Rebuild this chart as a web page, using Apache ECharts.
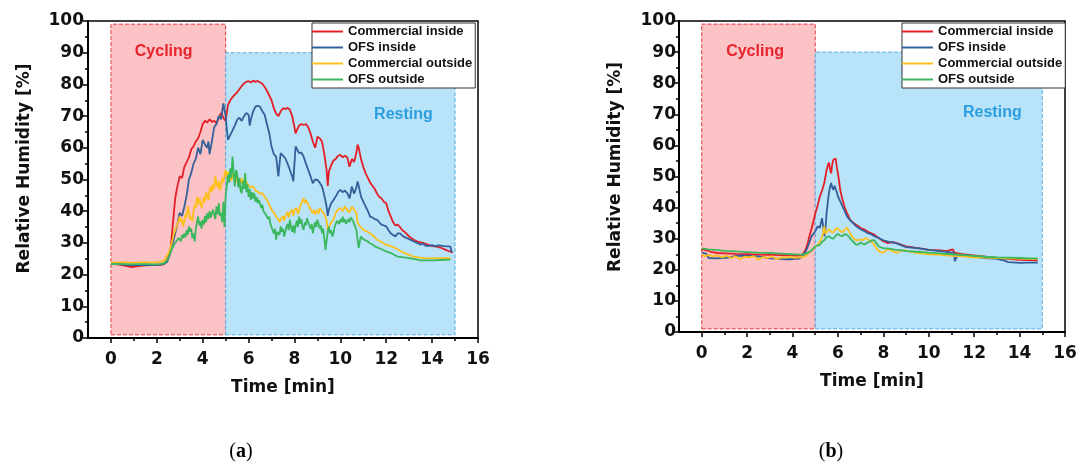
<!DOCTYPE html>
<html>
<head>
<meta charset="utf-8">
<script src="https://cdn.jsdelivr.net/npm/echarts@6/dist/echarts.min.js"></script>
<style>
html,body{margin:0;padding:0;background:#fff;}
#c{width:1080px;height:464px;}
</style>
</head>
<body>
<div id="c"></div>
<script>
// ---------- DATA ----------
const seriesNames = ['Commercial inside', 'OFS inside', 'Commercial outside', 'OFS outside'];
const xTickLabels = [0, 2, 4, 6, 8, 10, 12, 14, 16];
const xMinorTicks = [1, 3, 5, 7, 9, 11, 13, 15];
const phaseNames = ['Cycling', 'Resting'];
const cyclingRange = [0, 5];
const restingRange = [5, 15];
const cyclingTop = 99, restingTop = 90, phaseBottom = 1;
const panelLabels = ['a', 'b'];

// Panel (a): [time min, RH %]
const aRed = [[0,23.4],[0.3,23.2],[0.6,22.8],[0.9,22.4],[1.2,22.7],[1.5,22.9],[1.8,23.0],[2.1,23.0],[2.3,23.2],[2.45,24.5],[2.6,28],[2.7,36],[2.8,44],[2.9,48],[3.0,51],[3.1,50.5],[3.2,54],[3.3,55.5],[3.4,57],[3.5,59.5],[3.6,60.5],[3.7,62],[3.8,63],[3.9,65],[4.0,67.5],[4.1,68.5],[4.2,68],[4.3,69],[4.4,68.2],[4.5,68.5],[4.6,67.8],[4.7,69.5],[4.8,71],[4.9,69.5],[5.0,68.5],[5.05,71],[5.1,73.5],[5.2,75],[5.3,76],[5.4,76.8],[5.5,77.5],[5.6,78.5],[5.7,79.5],[5.8,80.3],[5.9,80.8],[6.0,81],[6.1,80.6],[6.2,81.2],[6.3,80.8],[6.4,81.1],[6.5,80.6],[6.6,80.2],[6.7,79.2],[6.8,78],[6.9,76.5],[7.0,75],[7.1,72.5],[7.2,70.8],[7.3,70],[7.4,71.5],[7.5,72.5],[7.6,72.2],[7.7,72.6],[7.8,72],[7.9,70],[8.0,66.5],[8.05,64.5],[8.1,65.5],[8.2,67],[8.3,67.5],[8.4,67.2],[8.5,67.5],[8.6,66.5],[8.7,64.5],[8.8,62],[8.9,60],[8.95,61.5],[9.0,63.5],[9.1,63],[9.2,62],[9.3,58],[9.4,53],[9.45,48],[9.5,52.5],[9.6,54.5],[9.7,56],[9.8,56.5],[9.9,57.5],[10.0,57.8],[10.1,57],[10.2,57.5],[10.3,57],[10.4,54],[10.5,56.5],[10.6,55.5],[10.7,58.5],[10.75,61],[10.8,60],[10.9,56.5],[11.0,54],[11.1,52],[11.2,50.5],[11.3,49],[11.4,48],[11.5,47],[11.6,45.5],[11.7,44.5],[11.8,44],[11.9,43],[12.0,42.5],[12.1,40],[12.2,38.3],[12.3,36.5],[12.4,35.5],[12.5,35.8],[12.6,35],[12.7,34],[12.8,33.5],[12.9,32.8],[13.0,32],[13.2,31],[13.4,30.3],[13.6,30],[13.8,29.5],[14.0,29],[14.2,28.8],[14.4,28.4],[14.6,27.8],[14.8,27.2],[14.9,27]];
const aBlue = [[0,23.5],[0.3,23.3],[0.6,23.1],[0.9,23],[1.2,23],[1.5,23.1],[1.8,23],[2.1,23.1],[2.3,23.4],[2.45,24],[2.6,27],[2.7,30],[2.8,33],[2.9,36],[3.0,39.5],[3.1,38.5],[3.2,41.5],[3.3,45],[3.4,50],[3.5,52],[3.6,55],[3.7,56.5],[3.8,60],[3.9,58],[4.0,62.5],[4.1,61],[4.2,60],[4.25,62],[4.3,58],[4.4,62],[4.5,66.5],[4.6,67.5],[4.7,70],[4.8,69],[4.9,74],[5.0,70],[5.05,66],[5.1,62.5],[5.2,64],[5.3,65.5],[5.4,67],[5.5,68.8],[5.6,69.5],[5.7,68.5],[5.8,70],[5.9,71],[6.0,70.4],[6.05,67],[6.1,69],[6.2,71.5],[6.3,73],[6.4,73.2],[6.5,73],[6.6,71.5],[6.7,70.4],[6.8,67.5],[6.9,64.6],[7.0,60.4],[7.1,58],[7.2,57.2],[7.3,51],[7.35,55],[7.4,58.3],[7.5,57.5],[7.6,56.7],[7.7,55],[7.8,53],[7.9,51],[7.95,49.4],[8.0,55],[8.05,60.4],[8.1,60.5],[8.2,58.3],[8.3,58.5],[8.4,57.2],[8.5,55],[8.6,53],[8.7,51],[8.8,48.8],[8.9,50],[9.0,49.9],[9.1,49],[9.2,47.8],[9.3,45],[9.4,41.5],[9.45,38.5],[9.5,40.5],[9.6,42.5],[9.7,43.5],[9.8,44.6],[9.9,46],[10.0,46.7],[10.1,46],[10.2,46.5],[10.3,45.7],[10.4,44],[10.5,47.8],[10.6,45.5],[10.7,47.5],[10.75,49.4],[10.8,48],[10.9,44.6],[11.0,43],[11.1,41.5],[11.2,40],[11.3,38.3],[11.4,38],[11.5,37.5],[11.6,37.3],[11.7,36.5],[11.8,35.7],[11.9,35.5],[12.0,35.2],[12.1,34],[12.2,33],[12.3,32.5],[12.4,32],[12.5,33],[12.6,33],[12.7,32.3],[12.8,31.8],[12.9,31.5],[13.0,31.2],[13.2,30.5],[13.4,29.8],[13.5,29.4],[13.6,29.8],[13.7,29.2],[13.8,29],[14.0,29.3],[14.1,29],[14.3,29.2],[14.5,29],[14.7,28.9],[14.8,28.8],[14.85,27]];
const aYellow = [[0,23.9],[0.3,23.8],[0.6,23.9],[0.9,23.7],[1.2,23.8],[1.5,23.9],[1.8,23.8],[2.1,24],[2.3,24.3],[2.45,26],[2.55,27.5],[2.65,30],[2.75,33],[2.85,35],[2.95,37],[3.0,38.3],[3.05,36.5],[3.1,37.5],[3.15,35.2],[3.2,37],[3.25,39],[3.3,38],[3.35,41.5],[3.4,39.5],[3.45,37.5],[3.5,38.3],[3.55,36.8],[3.6,40],[3.65,42],[3.7,41],[3.75,44.6],[3.8,42],[3.85,44],[3.9,43],[3.95,41],[4.0,42.5],[4.05,44.5],[4.1,43],[4.15,46],[4.2,45.7],[4.25,43.5],[4.3,46.5],[4.35,47.8],[4.4,46],[4.45,48.5],[4.5,47],[4.55,51],[4.6,49],[4.65,47.5],[4.7,49.5],[4.75,46.5],[4.8,48],[4.85,50.5],[4.9,49],[4.95,51.5],[5.0,53],[5.05,50.5],[5.1,52.5],[5.15,50],[5.2,51],[5.25,49.5],[5.3,52],[5.35,50.5],[5.4,52],[5.45,49],[5.5,51],[5.55,48.5],[5.6,50],[5.65,48.5],[5.7,50.5],[5.75,49],[5.8,49.9],[5.85,48],[5.9,49.5],[5.95,48.5],[6.0,48.8],[6.1,47.5],[6.2,47.8],[6.3,46.5],[6.4,46.2],[6.5,45.5],[6.6,45.7],[6.7,44.5],[6.8,43.6],[6.9,42],[7.0,40.4],[7.1,39.5],[7.2,38.3],[7.3,37.5],[7.35,36.5],[7.4,37.3],[7.5,38.5],[7.55,37],[7.6,38.3],[7.7,39.8],[7.75,38],[7.8,39.4],[7.9,40.5],[7.95,38.5],[8.0,40.4],[8.1,41],[8.15,39],[8.2,40.4],[8.3,42.5],[8.4,44.1],[8.45,42.5],[8.5,43.5],[8.6,42],[8.7,40.5],[8.8,39.4],[8.85,40.5],[8.9,39],[9.0,40.4],[9.05,39.2],[9.1,41],[9.2,40],[9.3,39],[9.4,37.3],[9.45,34],[9.5,35],[9.6,36.5],[9.7,37.3],[9.8,39.5],[9.9,40.5],[10.0,41],[10.1,40],[10.2,41.5],[10.3,40.4],[10.4,39.5],[10.5,41.5],[10.6,40.5],[10.7,39.4],[10.75,36.5],[10.8,35.7],[10.9,35],[11.0,34.1],[11.1,33.8],[11.2,33.5],[11.3,33],[11.4,32.4],[11.5,31.8],[11.6,31],[11.7,30.7],[11.8,30.2],[12.0,29.4],[12.2,29],[12.4,28.4],[12.6,27.5],[12.8,26.8],[13.0,26.2],[13.2,25.7],[13.4,25.4],[13.6,25.2],[14.0,25.1],[14.4,25.2],[14.8,25.2]];
const aGreen = [[0,23.2],[0.3,23.4],[0.6,23.3],[0.9,23.2],[1.2,23.3],[1.5,23.3],[1.8,23.2],[2.1,23.3],[2.3,23.5],[2.45,24.5],[2.55,26],[2.65,28],[2.75,29.5],[2.85,30.5],[2.95,31.5],[3.0,32],[3.05,30.5],[3.1,32.5],[3.15,31.5],[3.2,33],[3.25,31.8],[3.3,34],[3.35,32.5],[3.4,35.2],[3.45,33.5],[3.5,34.5],[3.55,31.5],[3.6,33],[3.65,30.5],[3.7,34.5],[3.75,36.5],[3.8,38.3],[3.85,35.5],[3.9,36.8],[3.95,34.5],[4.0,37.3],[4.05,35.8],[4.1,38.5],[4.15,36.5],[4.2,39.4],[4.25,37.5],[4.3,40],[4.35,38],[4.4,38.3],[4.45,40.5],[4.5,39],[4.55,37.5],[4.6,41.5],[4.65,39],[4.7,42.5],[4.75,38.5],[4.8,39.4],[4.85,36.5],[4.9,43],[4.95,35],[5.0,45],[5.05,47.8],[5.1,51.5],[5.15,49],[5.2,53.5],[5.25,50.5],[5.3,57.2],[5.35,52],[5.4,47.8],[5.45,53],[5.5,52],[5.55,47.5],[5.6,50.5],[5.65,46.5],[5.7,45.7],[5.75,49.5],[5.8,47],[5.85,52],[5.9,46],[5.95,48.5],[6.0,44.5],[6.05,47],[6.1,43.6],[6.15,46],[6.2,44],[6.25,45.7],[6.3,43],[6.35,44.5],[6.4,42.5],[6.45,43.5],[6.5,42.5],[6.55,41],[6.6,42],[6.65,40],[6.7,40.4],[6.75,39],[6.8,39.5],[6.85,37.5],[6.9,38.3],[6.95,36],[7.0,35.5],[7.05,34],[7.1,33],[7.15,34.5],[7.2,31],[7.25,33.5],[7.3,34],[7.35,32.5],[7.4,35.2],[7.45,33.5],[7.5,34.5],[7.55,32],[7.6,32],[7.65,35],[7.7,36],[7.75,34],[7.8,37.3],[7.85,35],[7.9,33.5],[7.95,35.5],[8.0,33],[8.05,35.5],[8.1,37],[8.15,35],[8.2,38.3],[8.25,36],[8.3,37.5],[8.35,35],[8.4,34.1],[8.45,36.5],[8.5,35.5],[8.55,37.8],[8.6,37.3],[8.65,35.5],[8.7,34.5],[8.75,36],[8.8,33],[8.85,35],[8.9,36.5],[8.95,35],[9.0,37.3],[9.05,36],[9.1,34.5],[9.15,35.5],[9.2,33],[9.25,34.5],[9.3,31.5],[9.35,27.8],[9.4,30.5],[9.45,33.5],[9.5,35.2],[9.55,33],[9.6,34],[9.65,32],[9.7,33],[9.75,35],[9.8,35.5],[9.85,37],[9.9,37.3],[9.95,36],[10.0,37.5],[10.05,36.5],[10.1,38.3],[10.15,36.5],[10.2,37.5],[10.25,36],[10.3,36.8],[10.35,37.5],[10.4,36.5],[10.45,38],[10.5,38.3],[10.55,37],[10.6,36],[10.65,35],[10.7,34],[10.75,31],[10.8,28.4],[10.85,30.5],[10.9,32],[11.0,31.2],[11.1,30.8],[11.2,30.5],[11.3,29.8],[11.4,29.5],[11.5,28.9],[11.6,28.6],[11.7,28.3],[11.8,28],[12.0,27.3],[12.2,26.8],[12.4,26],[12.5,25.7],[12.7,25.5],[13.0,25.2],[13.3,24.8],[13.5,24.5],[14.0,24.5],[14.4,24.6],[14.8,24.7]];

// Panel (b)
const bRed = [[0,26.6],[0.2,26.3],[0.4,25.8],[0.7,25.4],[1.0,25.3],[1.5,25.1],[2.0,25],[2.5,24.9],[3.0,24.8],[3.5,24.7],[4.0,24.6],[4.3,24.6],[4.45,25],[4.55,26],[4.65,28],[4.75,31],[4.85,33.5],[5.0,38],[5.1,40.5],[5.2,43.5],[5.3,45.5],[5.4,48],[5.5,52],[5.55,53.5],[5.6,54.5],[5.65,52.5],[5.7,51],[5.75,54],[5.8,55.4],[5.85,55],[5.9,55.8],[5.95,53],[6.0,51],[6.05,48.5],[6.1,45.7],[6.2,42.5],[6.3,40],[6.4,38.2],[6.5,36.7],[6.6,35.5],[6.7,35],[6.8,34.5],[6.9,34],[7.0,33.4],[7.15,33],[7.3,32.3],[7.45,31.8],[7.6,31.3],[7.75,30.5],[7.9,29.7],[8.0,29.2],[8.2,28.6],[8.4,28.9],[8.6,28.6],[8.8,28],[9.0,27.5],[9.25,27.3],[9.5,27],[9.75,26.7],[10,26.4],[10.5,26.2],[10.8,26],[11.05,26.6],[11.15,25.4],[11.5,25],[12,24.6],[12.5,24.2],[13,23.8],[13.5,23.5],[14,23.2],[14.4,23.1],[14.8,23]];
const bBlue = [[0,25.5],[0.2,25.2],[0.3,23.8],[0.6,23.7],[0.9,23.8],[1.2,23.9],[1.5,24.5],[1.8,24.6],[2.1,24.5],[2.5,24.3],[3.0,23.7],[3.3,23.6],[3.6,23.4],[4.0,23.4],[4.3,23.6],[4.45,24.3],[4.55,25.5],[4.65,27],[4.75,29],[4.85,31],[4.95,31.8],[5.05,33],[5.1,34],[5.2,33.5],[5.3,36.6],[5.35,34],[5.4,30.7],[5.45,33],[5.5,38.2],[5.55,41.5],[5.6,44.6],[5.65,46.5],[5.7,47.9],[5.75,46.5],[5.8,45.7],[5.85,47],[5.9,46.8],[5.95,45],[6.0,43.6],[6.1,42],[6.2,40.4],[6.3,38.8],[6.4,37.2],[6.5,36.2],[6.6,35.5],[6.7,34.8],[6.8,34],[6.9,33.5],[7.0,33],[7.15,32.5],[7.3,31.8],[7.45,31.5],[7.6,30.8],[7.8,30.2],[8.0,29.5],[8.25,29],[8.5,28.7],[8.75,28],[9.0,27.3],[9.5,27],[10,26.4],[10.5,26],[11,25.5],[11.1,25.6],[11.15,22.8],[11.25,24.5],[11.5,24.8],[12,24.2],[12.5,23.8],[13,23.5],[13.3,23],[13.5,22.5],[14,22.2],[14.4,22.3],[14.8,22.3]];
const bYellow = [[0,25],[0.15,24.3],[0.3,24.8],[0.5,24.3],[0.7,24.6],[0.9,24],[1.1,24.5],[1.3,23.8],[1.5,24.3],[1.7,23.5],[1.9,24.2],[2.1,24],[2.3,24.4],[2.5,23.2],[2.7,24.1],[2.9,23.8],[3.1,24.3],[3.3,23.4],[3.5,24],[3.7,23.9],[3.9,24.2],[4.1,23.8],[4.3,24],[4.5,24.2],[4.6,24.5],[4.7,25.3],[4.8,26],[4.9,26.5],[5.0,27.5],[5.1,28],[5.2,29],[5.3,30.5],[5.35,32],[5.4,34],[5.45,31.5],[5.5,31],[5.6,33],[5.7,32.2],[5.8,32],[5.9,33.2],[6.0,33.2],[6.1,32.5],[6.2,32],[6.3,33],[6.4,33.5],[6.5,32.2],[6.6,31],[6.7,30],[6.8,29.5],[6.9,29.5],[7.0,29.8],[7.1,29.5],[7.2,30.2],[7.3,29.8],[7.4,29.5],[7.5,28.8],[7.6,28],[7.7,26.8],[7.8,26],[7.9,25.6],[8.0,25.5],[8.1,26.2],[8.2,26.5],[8.3,26.5],[8.4,26],[8.5,25.7],[8.6,25.5],[8.8,26.2],[9.0,26.2],[9.2,25.8],[9.5,25.4],[9.8,25.2],[10,25],[10.5,24.8],[11,24.5],[11.5,24.3],[12,24],[12.5,23.9],[13,23.8],[13.5,23.7],[14,23.6],[14.4,23.5],[14.8,23.5]];
const bGreen = [[0,26.9],[0.3,26.6],[0.6,26.4],[1.0,26.1],[1.5,25.9],[2.0,25.7],[2.5,25.5],[3.0,25.4],[3.5,25.2],[4.0,25],[4.4,24.9],[4.6,25.2],[4.8,26],[5.0,27.5],[5.1,27.8],[5.2,28],[5.3,29],[5.4,29.5],[5.5,30.5],[5.6,30.8],[5.7,30.2],[5.8,30],[5.9,31],[6.0,31.5],[6.1,31],[6.2,30.8],[6.3,31.5],[6.4,31.2],[6.5,30.5],[6.6,29.5],[6.7,28.8],[6.8,28],[6.9,28.2],[7.0,28.8],[7.1,28.3],[7.2,28.2],[7.3,28.8],[7.4,29],[7.5,29.5],[7.6,29.5],[7.7,28.5],[7.8,27.5],[7.9,27.2],[8.0,27],[8.25,26.8],[8.5,26.5],[8.75,26.3],[9,26],[9.5,25.8],[10,25.5],[10.5,25.3],[11,25],[11.5,24.8],[12,24.5],[12.5,24.2],[13,24],[13.5,23.9],[14,23.8],[14.4,23.7],[14.8,23.7]];

// phase label anchor positions (data coords) per panel
const phaseLabelPos = [
  [[2.3, 90.5], [12.75, 70.6]],
  [[2.35, 90.3], [12.8, 70.5]]
];

// ---------- STYLE ----------
const colors = ['#e41e26', '#33609a', '#fdc01d', '#3bb75e'];
const FONT = '"Liberation Sans", Arial, sans-serif';
const AXFONT = '"DejaVu Sans", sans-serif';
const grids = [
  { left: 88, top: 21, width: 390, height: 317 },
  { left: 679, top: 21, width: 386, height: 311 }
];
const yLabelMargin = [4, 3];
const yNamePad = [22, 19];
const legendPos = [{ left: 312, top: 23 }, { left: 902, top: 23 }];
const panelLabelPos = [[241, 452], [831, 452]];
const panelData = [[aRed, aBlue, aYellow, aGreen], [bRed, bBlue, bYellow, bGreen]];

const option = {
  animation: false,
  backgroundColor: '#fff',
  textStyle: { fontFamily: FONT },
  grid: grids.map(g => Object.assign({ show: true, borderColor: '#000', borderWidth: 1.5, backgroundColor: 'transparent' }, g)),
  xAxis: [],
  yAxis: [],
  legend: [],
  series: [],
  graphic: []
};

grids.forEach((g, i) => {
  option.xAxis.push({
    gridIndex: i, type: 'value', min: -1, max: 16,
    name: 'Time [min]', nameLocation: 'middle', nameGap: 41,
    nameTextStyle: { fontSize: 17, fontWeight: 'bold', color: '#111', fontFamily: AXFONT },
    axisLine: { show: true, onZero: false, lineStyle: { color: '#000', width: 2 } },
    axisTick: { show: true, customValues: xTickLabels, length: 5, lineStyle: { color: '#000', width: 1.5 } },
    axisLabel: { show: true, customValues: xTickLabels, fontSize: 17, fontWeight: 'bold', color: '#111', margin: 13, fontFamily: AXFONT },
    splitLine: { show: false }
  });
  option.xAxis.push({
    gridIndex: i, type: 'value', min: -1, max: 16, position: 'bottom',
    axisLine: { show: false, onZero: false },
    axisTick: { show: true, customValues: xMinorTicks, length: 3, lineStyle: { color: '#000', width: 1.5 } },
    axisLabel: { show: false },
    splitLine: { show: false }
  });
  option.yAxis.push({
    gridIndex: i, type: 'value', min: 0, max: 100, interval: 10,
    name: 'Relative Humidity [%]', nameLocation: 'middle', nameGap: 55,
    nameTextStyle: { fontSize: 17, fontWeight: 'bold', color: '#111', fontFamily: AXFONT, padding: [0, 0, 0, yNamePad[i]] },
    axisLine: { show: true, onZero: false, lineStyle: { color: '#000', width: 2 } },
    axisTick: { show: true, length: 5, lineStyle: { color: '#000', width: 1.5 } },
    minorTick: { show: true, splitNumber: 2, length: 3, lineStyle: { color: '#000', width: 1.5 } },
    axisLabel: { fontSize: 17, fontWeight: 'bold', color: '#111', margin: yLabelMargin[i], fontFamily: AXFONT },
    splitLine: { show: false }
  });

  // shaded phase regions + labels
  option.series.push({
    type: 'line', xAxisIndex: i * 2, yAxisIndex: i, data: [], z: 1, silent: true,
    markArea: {
      silent: true,
      label: { show: false },
      data: [
        [{ xAxis: cyclingRange[0], yAxis: phaseBottom,
           itemStyle: { color: '#fbc3c6', borderColor: '#e2363e', borderType: 'dashed', borderWidth: 1 } },
         { xAxis: cyclingRange[1], yAxis: cyclingTop }],
        [{ xAxis: restingRange[0], yAxis: phaseBottom,
           itemStyle: { color: '#b9e3f9', borderColor: '#5aaee0', borderType: 'dashed', borderWidth: 1 } },
         { xAxis: restingRange[1], yAxis: restingTop }]
      ]
    },
    markPoint: {
      silent: true, symbol: 'circle', symbolSize: 1,
      itemStyle: { color: 'rgba(0,0,0,0)' },
      data: [
        { coord: phaseLabelPos[i][0], label: { show: true, position: 'inside', formatter: phaseNames[0], color: '#e8232b', fontSize: 16, fontWeight: 'bold', fontFamily: FONT } },
        { coord: phaseLabelPos[i][1], label: { show: true, position: 'inside', formatter: phaseNames[1], color: '#2c9ee0', fontSize: 16, fontWeight: 'bold', fontFamily: FONT } }
      ]
    }
  });

  panelData[i].forEach((d, k) => {
    option.series.push({
      name: seriesNames[k], type: 'line', xAxisIndex: i * 2, yAxisIndex: i,
      data: d, showSymbol: false, symbol: 'none', z: 3,
      lineStyle: { color: colors[k], width: 1.8 },
      itemStyle: { color: colors[k] }
    });
  });

  option.legend.push(Object.assign({
    orient: 'vertical', data: seriesNames, selectedMode: false,
    icon: 'path://M0,0 L31,0 L31,2 L0,2 Z',
    itemWidth: 31, itemHeight: 14, itemGap: 3,
    padding: [2, 3, 2, 0],
    borderColor: '#333', borderWidth: 1, backgroundColor: '#fff',
    textStyle: { fontSize: 13, fontWeight: 'bold', color: '#111', fontFamily: FONT }
  }, legendPos[i]));

  option.graphic.push({
    type: 'text', x: panelLabelPos[i][0], y: panelLabelPos[i][1],
    style: {
      text: '{p|(}{b|' + panelLabels[i] + '}{p|)}',
      align: 'center', verticalAlign: 'middle',
      rich: {
        p: { fontFamily: '"Liberation Serif", "DejaVu Serif", serif', fontSize: 20, fill: '#000' },
        b: { fontFamily: '"Liberation Serif", "DejaVu Serif", serif', fontSize: 20, fontWeight: 'bold', fill: '#000' }
      }
    }
  });
});

const chart = echarts.init(document.getElementById('c'), null, { renderer: 'canvas' });
chart.setOption(option);
</script>
</body>
</html>
